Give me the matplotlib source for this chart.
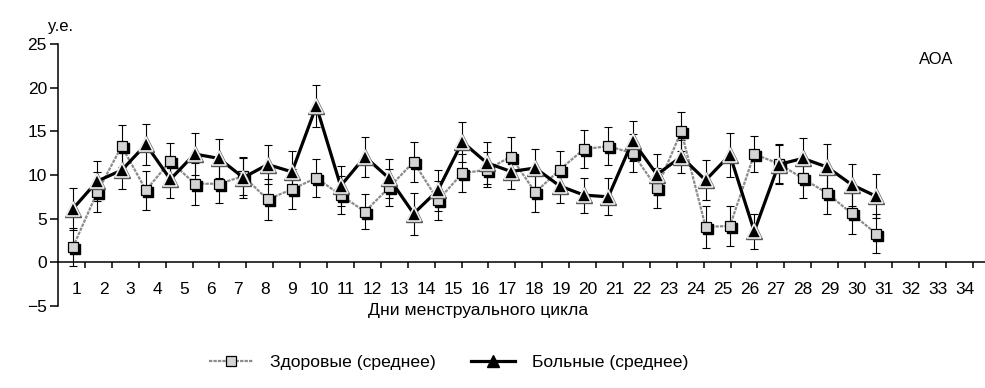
"""Антиоксидантная активность (АОА) по дням менструального цикла"""
import numpy as np
import matplotlib
matplotlib.use("Agg")
import matplotlib.pyplot as plt
import matplotlib.transforms as mtransforms
from matplotlib.lines import Line2D

plt.rcParams["font.family"] = ["Liberation Sans", "DejaVu Sans"]
plt.rcParams["font.size"] = 12.5

# days of the cycle (data points) and axis labels
days = np.arange(1, 35)
day_labels = [str(k) for k in range(1, 35)]

# healthy (mean) and sd
healthy = [1.75, 8.06, 13.3, 8.26, 11.6, 9.0, 9.0, 9.86, 7.2, 8.37,
           9.67, 7.7, 5.8, 8.6, 11.5, 7.1, 10.2, 10.6, 12.1, 8.0,
           10.6, 12.96, 13.3, 12.5, 8.5, 15.0, 4.05, 4.17, 12.4, 11.3,
           9.6, 7.9, 5.6, 3.3]
healthy_err = [2.2, 2.3, 2.4, 2.25, 2.1, 2.4, 2.2, 2.2, 2.3, 2.3,
               2.2, 2.2, 2.0, 2.1, 2.3, 2.2, 2.2, 2.0, 2.2, 2.2,
               2.1, 2.2, 2.2, 2.2, 2.3, 2.2, 2.4, 2.3, 2.1, 2.2,
               2.2, 2.4, 2.3, 2.2]

# patients (mean) and sd
patients = [6.15, 9.3, 10.55, 13.5, 9.5, 12.4, 11.9, 9.7, 11.2, 10.36,
            17.9, 8.75, 12.1, 9.6, 5.58, 8.26, 13.8, 11.4, 10.4, 10.8,
            8.75, 7.7, 7.5, 13.9, 10.05, 12.1, 9.4, 12.3, 3.55, 11.2,
            11.9, 10.9, 8.9, 7.57]
patients_err = [2.4, 2.3, 2.1, 2.3, 2.1, 2.4, 2.2, 2.3, 2.25, 2.4,
                2.45, 2.3, 2.3, 2.2, 2.4, 2.35, 2.3, 2.4, 2.0, 2.2,
                2.0, 2.0, 2.1, 2.3, 2.3, 1.9, 2.3, 2.5, 2.0, 2.2,
                2.3, 2.6, 2.4, 2.5]

# the points are spaced a bit tighter than the day labels on the axis
x_first = 0.558
x_step = 0.9045
xpos = x_first + x_step * (days - 1)

fig = plt.figure(figsize=(9.85, 3.88), dpi=100)
ax = fig.add_axes([58 / 985, 82 / 388, 927 / 985, 262 / 388])

# error bars (black, thin)
ax.errorbar(xpos, healthy, yerr=healthy_err, fmt="none", ecolor="black",
            elinewidth=0.8, capsize=3, capthick=0.8, zorder=2)
ax.errorbar(xpos, patients, yerr=patients_err, fmt="none", ecolor="black",
            elinewidth=0.8, capsize=3, capthick=0.8, zorder=2)

# healthy: grey stippled line, grey squares with a black drop shadow
ax.plot(xpos, healthy, color="#8c8c8c", lw=1.6, ls=(0, (1.5, 0.5)), zorder=3)
shadow = mtransforms.offset_copy(ax.transData, fig=fig, x=2, y=-2, units="dots")
ax.plot(xpos, healthy, ls="none", marker="s", ms=7.6, mfc="black",
        mec="black", transform=shadow, zorder=4)
ax.plot(xpos, healthy, ls="none", marker="s", ms=7.6, mfc="#d4d4d4",
        mec="black", mew=0.9, zorder=5)

# patients: thick black line, black triangles with light rim
ax.plot(xpos, patients, color="black", lw=2.3, zorder=6)
ax.plot(xpos, patients, ls="none", marker="^", ms=12, mfc="#555555",
        mec="#555555", zorder=7)
ax.plot(xpos, patients, ls="none", marker="^", ms=9.5, mfc="black",
        mec="#eeeeee", mew=1.2, zorder=8)

ax.set_xlim(0, 927 / 26.9)
ax.set_ylim(-5, 25)

for side in ["top", "right"]:
    ax.spines[side].set_visible(False)
ax.spines["bottom"].set_position(("data", 0))
ax.spines["bottom"].set_linewidth(1.1)
ax.spines["left"].set_linewidth(1.1)

ax.set_yticks([-5, 0, 5, 10, 15, 20, 25])
ax.set_yticklabels(["\u22125", "0", "5", "10", "15", "20", "25"])
ax.tick_params(axis="y", direction="out", length=6, width=1.1, pad=2,
               labelsize=12.5)

# tick marks between the days, labels centred in the gaps
ax.set_xticks(np.arange(1, 35))
ax.set_xticklabels([])
ax.set_xticks(np.arange(1, 35) - 0.3, minor=True)
ax.set_xticklabels(day_labels, minor=True)
ax.tick_params(axis="x", which="major", direction="out", length=4, width=1.1)
ax.tick_params(axis="x", which="minor", length=0, pad=14, labelsize=12.5)

fig.text(61 / 985, 1 - 26 / 388, "у.е.", ha="center", va="center", fontsize=12)
fig.text(936 / 985, 1 - 59 / 388, "АОА", ha="center", va="center", fontsize=12)
fig.text(478 / 985, 1 - 311 / 388, "Дни менструального цикла",
         ha="center", va="center", fontsize=12.6)

h_healthy = Line2D([], [], color="#8c8c8c", lw=1.6, ls=(0, (1.5, 0.5)),
                   marker="s", ms=7.6, mfc="#d4d4d4", mec="black", mew=0.9)
h_patients = Line2D([], [], color="black", lw=2.3, marker="^", ms=8,
                    mfc="black", mec="black")
fig.legend([h_healthy, h_patients],
           ["Здоровые (среднее)", "Больные (среднее)"],
           loc="center", bbox_to_anchor=(449 / 985, 1 - 362 / 388), ncol=2,
           frameon=False, fontsize=12.6, handlelength=2.5, handletextpad=1.0,
           columnspacing=2.0)

fig.savefig("out.png", dpi=100)
